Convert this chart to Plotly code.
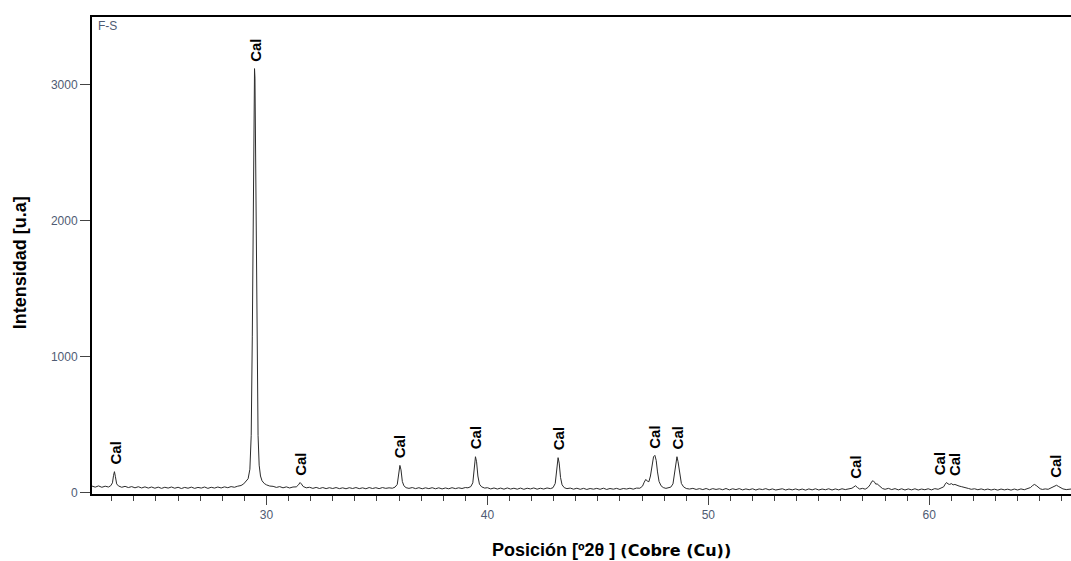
import plotly.graph_objects as go

# ---- data ----
two_theta = [22.10, 22.25, 22.40, 22.55, 22.70, 22.85, 22.95, 23.03, 23.08, 23.12, 23.16, 23.22, 23.30, 23.45,
             23.60, 23.75, 23.90, 24.05, 24.20, 24.35, 24.50, 24.65, 24.80, 24.95, 25.10, 25.25, 25.40, 25.55,
             25.70, 25.85, 26.00, 26.15, 26.30, 26.45, 26.60, 26.75, 26.90, 27.05, 27.20, 27.35, 27.50, 27.65,
             27.80, 27.95, 28.10, 28.25, 28.40, 28.55, 28.70, 28.85, 28.97, 29.07, 29.17, 29.25, 29.31, 29.36,
             29.40, 29.43, 29.46, 29.48, 29.51, 29.54, 29.58, 29.62, 29.67, 29.73, 29.80, 29.90, 30.00, 30.15,
             30.30, 30.45, 30.60, 30.75, 30.90, 31.05, 31.20, 31.35, 31.45, 31.52, 31.58, 31.66, 31.80, 31.95,
             32.10, 32.25, 32.40, 32.55, 32.70, 32.85, 33.00, 33.15, 33.30, 33.45, 33.60, 33.75, 33.90, 34.05,
             34.20, 34.35, 34.50, 34.65, 34.80, 34.95, 35.10, 35.25, 35.40, 35.55, 35.70, 35.82, 35.92, 35.98,
             36.04, 36.09, 36.15, 36.22, 36.32, 36.45, 36.60, 36.75, 36.90, 37.05, 37.20, 37.35, 37.50, 37.65,
             37.80, 37.95, 38.10, 38.25, 38.40, 38.55, 38.70, 38.85, 39.00, 39.12, 39.25, 39.34, 39.40, 39.46,
             39.51, 39.57, 39.64, 39.74, 39.88, 40.00, 40.15, 40.30, 40.45, 40.60, 40.75, 40.90, 41.05, 41.20,
             41.35, 41.50, 41.65, 41.80, 41.95, 42.10, 42.25, 42.40, 42.55, 42.70, 42.85, 42.97, 43.07, 43.14,
             43.20, 43.25, 43.31, 43.38, 43.48, 43.60, 43.75, 43.90, 44.05, 44.20, 44.35, 44.50, 44.65, 44.80,
             44.95, 45.10, 45.25, 45.40, 45.55, 45.70, 45.85, 46.00, 46.15, 46.30, 46.45, 46.60, 46.75, 46.90,
             47.02, 47.10, 47.17, 47.24, 47.31, 47.38, 47.45, 47.52, 47.58, 47.64, 47.70, 47.77, 47.86, 47.96,
             48.08, 48.20, 48.30, 48.40, 48.47, 48.53, 48.58, 48.63, 48.70, 48.78, 48.88, 49.00, 49.15, 49.30,
             49.45, 49.60, 49.75, 49.90, 50.05, 50.20, 50.35, 50.50, 50.65, 50.80, 50.95, 51.10, 51.25, 51.40,
             51.55, 51.70, 51.85, 52.00, 52.15, 52.30, 52.45, 52.60, 52.75, 52.90, 53.05, 53.20, 53.35, 53.50,
             53.65, 53.80, 53.95, 54.10, 54.25, 54.40, 54.55, 54.70, 54.85, 55.00, 55.15, 55.30, 55.45, 55.60,
             55.75, 55.90, 56.05, 56.20, 56.35, 56.50, 56.59, 56.66, 56.75, 56.85, 56.98, 57.10, 57.22, 57.32,
             57.40, 57.46, 57.52, 57.58, 57.64, 57.70, 57.78, 57.88, 58.00, 58.15, 58.30, 58.45, 58.60, 58.75,
             58.90, 59.05, 59.20, 59.35, 59.50, 59.65, 59.80, 59.95, 60.10, 60.25, 60.40, 60.55, 60.65, 60.72,
             60.78, 60.85, 60.92, 61.00, 61.08, 61.16, 61.25, 61.35, 61.45, 61.55, 61.65, 61.78, 61.90, 62.05,
             62.20, 62.35, 62.50, 62.65, 62.80, 62.95, 63.10, 63.25, 63.40, 63.55, 63.70, 63.85, 64.00, 64.15,
             64.30, 64.45, 64.58, 64.68, 64.76, 64.84, 64.92, 65.02, 65.12, 65.25, 65.38, 65.50, 65.60, 65.68,
             65.76, 65.84, 65.94, 66.05, 66.20, 66.42]

intensity = [46, 38, 47, 37, 45, 39, 48, 70, 125, 152, 118, 62, 47, 37,
             44, 35, 42, 33, 41, 32, 40, 31, 39, 30, 38, 29, 37, 31,
             39, 30, 37, 28, 36, 30, 38, 29, 36, 31, 39, 29, 37, 31,
             39, 32, 40, 34, 42, 37, 45, 50, 62, 78, 100, 170, 420, 1150,
             2300, 2950, 3120, 3050, 2500, 1700, 900, 420, 200, 120, 85, 65, 55, 46,
             44, 36, 42, 33, 40, 32, 39, 40, 55, 72, 62, 43, 33, 37,
             29, 36, 28, 35, 27, 34, 28, 35, 27, 33, 26, 34, 28, 35,
             27, 33, 26, 35, 28, 34, 27, 35, 29, 33, 30, 38, 58, 130,
             198, 165, 80, 48, 34, 29, 35, 27, 34, 26, 33, 27, 34, 26,
             33, 25, 32, 26, 34, 27, 33, 28, 35, 33, 42, 70, 170, 262,
             225, 120, 60, 40, 31, 34, 25, 32, 24, 31, 23, 32, 24, 30,
             23, 31, 22, 30, 25, 32, 23, 30, 24, 32, 27, 34, 65, 170,
             255, 215, 110, 55, 34, 27, 31, 23, 30, 22, 29, 21, 28, 23,
             29, 22, 30, 21, 28, 23, 29, 21, 28, 24, 30, 23, 31, 30,
             45, 75, 95, 82, 78, 120, 210, 262, 272, 235, 150, 80, 48, 35,
             29, 34, 38, 62, 150, 240, 262, 225, 130, 65, 40, 28, 24, 29,
             21, 27, 20, 28, 19, 27, 21, 26, 19, 28, 18, 26, 20, 27,
             18, 25, 19, 26, 17, 25, 20, 27, 18, 25, 17, 24, 26, 17,
             24, 18, 25, 17, 24, 16, 25, 18, 26, 17, 24, 19, 26, 17,
             25, 18, 26, 20, 24, 30, 40, 48, 35, 24, 29, 23, 35, 55,
             80, 85, 75, 60, 62, 52, 38, 28, 22, 29, 20, 27, 18, 26,
             17, 25, 18, 26, 17, 24, 19, 26, 18, 27, 22, 30, 40, 60,
             72, 62, 58, 64, 55, 58, 50, 46, 42, 36, 30, 28, 22, 26,
             19, 25, 18, 24, 17, 23, 16, 24, 18, 23, 16, 24, 17, 25,
             19, 26, 35, 50, 58, 50, 38, 26, 21, 25, 22, 30, 38, 46,
             52, 44, 32, 25, 20, 24]

assert len(two_theta) == len(intensity)

# phase labels (Calcite): position and the peak intensity under each label
label_pos = [23.16, 29.47, 31.51, 36.06, 39.44, 43.20, 47.58, 48.59, 56.66, 60.45, 61.12, 65.74]
label_peak = [152, 3120, 72, 198, 262, 255, 272, 262, 48, 72, 64, 52]
label_text = ["Cal"] * len(label_pos)

x_ticks = [30, 40, 50, 60]
y_ticks = [0, 1000, 2000, 3000]

FONT = "Liberation Sans, Arial, sans-serif"
TICK_COLOR = "#4f5b73"

fig = go.Figure()
fig.add_trace(go.Scatter(x=two_theta, y=intensity, mode="lines",
                         line=dict(color="#2b2b2b", width=1), showlegend=False,
                         hoverinfo="x+y"))

for xp, yp, t in zip(label_pos, label_peak, label_text):
    fig.add_annotation(x=xp, y=yp, xref="x", yref="y", text="<b>" + t + "</b>",
                       showarrow=False, textangle=-90, xanchor="center", yanchor="bottom",
                       yshift=5, font=dict(family=FONT, size=15, color="#000000"))

fig.add_annotation(x=0.004, y=1.0, xref="paper", yref="paper", text="F-S", showarrow=False,
                   xanchor="left", yanchor="top", font=dict(family=FONT, size=12, color=TICK_COLOR))

fig.add_annotation(x=0.531, y=-0.118, xref="paper", yref="paper",
                   text=("<b>Posición [º2θ ]</b> <b><span style='font-size:16px;font-family:DejaVu Sans'>"
                         "(Cobre (Cu))</span></b>"),
                   showarrow=False, xanchor="center", yanchor="middle",
                   font=dict(family=FONT, size=18, color="#000000"))

fig.add_annotation(x=-0.0735, y=0.484, xref="paper", yref="paper",
                   text="<b>Intensidad [u.a]</b>", textangle=-90,
                   showarrow=False, xanchor="center", yanchor="middle",
                   font=dict(family=FONT, size=18, color="#000000"))

fig.update_xaxes(range=[22.104, 66.415], tickvals=x_ticks, ticks="outside", ticklen=9,
                 tickwidth=1, tickcolor="#444444", showline=True, linecolor="#000000", linewidth=2,
                 mirror=True, showgrid=False, zeroline=False,
                 minor=dict(dtick=1, tick0=0, ticks="outside", ticklen=5, tickcolor="#444444", showgrid=False),
                 tickfont=dict(family=FONT, size=12, color=TICK_COLOR))
fig.update_yaxes(range=[-12.5, 3500], tickvals=y_ticks, ticks="outside", ticklen=10,
                 tickwidth=1, tickcolor="#444444", showline=True, linecolor="#000000", linewidth=2,
                 mirror=False, showgrid=False, zeroline=False,
                 tickfont=dict(family=FONT, size=12, color=TICK_COLOR))

fig.update_layout(width=1071, height=561, margin=dict(l=92, r=0, t=17, b=67),
                  plot_bgcolor="white", paper_bgcolor="white")

fig.write_html("out.html")
